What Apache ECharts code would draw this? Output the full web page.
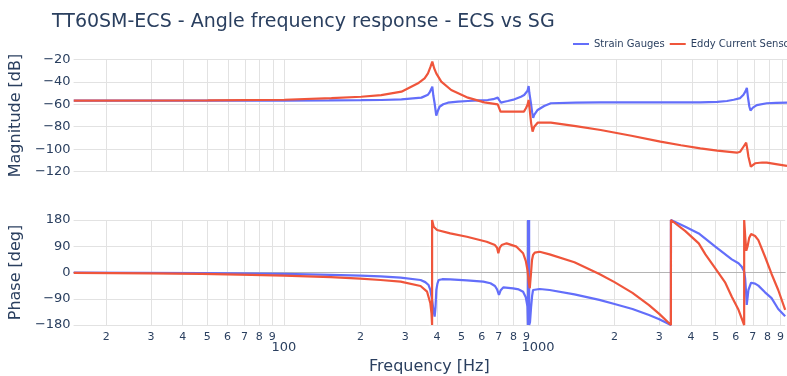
<!DOCTYPE html>
<html>
<head>
<meta charset="utf-8">
<script src="https://cdn.jsdelivr.net/npm/echarts@6/dist/echarts.min.js"></script>
<style>
  html, body { margin: 0; padding: 0; background: #fff; }
  #chart { width: 787px; height: 376px; }
</style>
</head>
<body>
<div id="chart"></div>
<script>
// Frequency response of the TT60SM-ECS angle sensor: strain gauges vs eddy current sensor.
// Each series is a list of [frequency in Hz, value].

const sgMagnitude = [
  [14.9,-56.8],[30,-56.8],[50,-56.8],[100,-56.7],[150,-56.6],[200,-56.4],[240,-56.2],[288,-55.6],
  [345,-54.1],[366,-51.5],[371,-49.7],[377,-46.5],[380.6,-44.4],[384,-52],[388.6,-59.1],[394.5,-70.2],
  [400,-66],[406.4,-62.2],[420,-60],[438.3,-58.6],[480,-57.6],[525,-57.1],[580,-56.6],[628,-56.2],
  [660,-55.5],[687.5,-54.1],[698,-56.5],[708.4,-58.6],[730,-57.8],[752.5,-57.1],[800,-55.6],[848,-53.3],
  [873,-51.8],[887,-50.2],[900,-48],[909,-43.8],[915,-50],[928,-59.1],[938,-67],[947,-72],[956,-69.5],
  [986,-65.1],[1046,-61.5],[1111,-59.1],[1391,-58.5],[1743,-58.3],[2500,-58.3],[3500,-58.3],[4290,-58.3],
  [5000,-57.8],[5456,-57.1],[5800,-56],[6151,-54.5],[6335,-51.5],[6450,-48.5],[6532,-45.5],[6600,-54],
  [6680,-62],[6750,-65.5],[6900,-63],[7147,-60.7],[7822,-59.1],[8500,-58.8],[9389,-58.6]
];

const ecsMagnitude = [
  [14.9,-56.8],[50,-56.6],[100,-56.0],[153,-54.6],[200,-53.3],[240,-51.8],[288,-48.8],[334.5,-41.4],
  [355,-37],[366,-32.5],[374,-27],[380.6,-22.1],[387,-28],[394.5,-32.5],[412.7,-39.9],[451.5,-47.3],
  [525,-54.1],[609,-58.3],[687.5,-60.1],[697,-61],[705,-66.6],[730,-66.6],[800,-66.6],[871,-66.6],
  [887,-63.6],[900,-60.5],[909,-56.2],[915,-62],[920,-67],[930,-77],[942,-84.4],[956,-80],[986,-76.4],
  [1111,-76.4],[1391,-79.5],[1743,-82.9],[2300,-88],[2991,-93.3],[3600,-96.5],[4290,-99.2],[5000,-101.3],
  [5969,-103.1],[6151,-102.2],[6335,-97.8],[6492,-94.2],[6560,-100],[6627,-106.7],[6772,-115.5],
  [7039,-112.5],[7500,-111.8],[7822,-112],[8500,-113.3],[9389,-114.9]
];

const sgPhase = [
  [14.9,0],[47.5,-2],[100,-5],[153,-8],[200,-10.5],[240,-13.5],[288,-17.7],[345,-25.7],[360,-33],
  [371,-42.9],[377,-60],[383,-94],[388,-130],[392,-151],[395,-120],[398,-60],[402,-38],[406.4,-25.7],
  [420,-23],[451.5,-23.4],[525,-27],[609,-31.4],[650,-37],[677,-46.3],[690,-58],[702,-77],[712,-62],
  [730,-50.9],[798,-54.3],[840,-58],[873.6,-65.8],[895,-85],[909,-117],[913,-180],[913.5,180],[918,60],
  [922.5,180],[923,-180],[930,-170],[939,-120],[948,-80],[956,-60],[1015,-56.6],[1111,-60],[1391,-75],
  [1743,-94],[2000,-108],[2353,-125],[2734,-146],[3000,-160],[3334,-180],[3335,180],[3800,157],
  [4290,134],[4985,88.6],[5788,45],[6151,31.5],[6335,20],[6474,3],[6532,-20],[6590,-70],[6627,-111],
  [6680,-85],[6729,-60],[6894,-35],[6931,-32],[7147,-38],[7362,-45],[7822,-68],[8299,-88],[8816,-125],
  [9389,-150]
];

const ecsPhase = [
  [14.9,-1],[30,-3],[47.5,-5],[74.5,-8],[100,-11],[153,-16],[200,-21],[240,-25.7],[288,-31.4],
  [345,-46.3],[366,-65.8],[377,-105.6],[381,-140],[383,-180],[383.1,180],[388.6,157],[400.6,145.7],
  [451.5,134],[525,122.7],[628,105.6],[677,94],[690,85],[698,66],[707,85],[719.4,94],[752.5,100],
  [823,88.6],[873.6,66],[895,40],[909,8.6],[920,-35],[928,-54],[937,-10],[947,43],[956,60],[971,68],
  [1015,71],[1111,62],[1391,35],[1743,-5],[2000,-33],[2353,-70],[2734,-112],[3000,-142],[3334,-180],
  [3335,180],[3800,142],[4290,100],[4557,62],[4985,14],[5456,-35],[5788,-83],[6151,-128],[6474,-180],
  [6475,180],[6540,120],[6600,75],[6627,71],[6680,90],[6772,118],[6894,132],[6975,133],[7147,125],
  [7362,111],[7822,54],[8299,-5],[8816,-60],[9389,-128]
];

const seriesNames = ['Strain Gauges', 'Eddy Current Sensor'];
const seriesColors = ['#636efa', '#ef553b'];

// Log-frequency axis: ticks at 2..9 of every decade, decades labelled in full
const xTickValues = [20,30,40,50,60,70,80,90,100,200,300,400,500,600,700,800,900,1000,2000,3000,4000,5000,6000,7000,8000,9000];
const xTickLabels = ['2','3','4','5','6','7','8','9','100','2','3','4','5','6','7','8','9','1000','2','3','4','5','6','7','8','9'];
const xRangeHz = [14.88, 9389];

const magTicks = { min: -120, max: -20, interval: 20 };
const phaseTicks = { min: -180, max: 180, interval: 90 };

const FONT = 'DejaVu Sans';
const TEXT = '#2a3f5f';
const GRID_COLOR = '#e2e2e2';

const lg = Math.log10;
const toLog = pts => pts.map(([f, v]) => [lg(f), v]);
const tickLogs = xTickValues.map(lg);

function xLabel(value) {
  const i = tickLogs.findIndex(t => Math.abs(t - value) < 1e-6);
  if (i < 0) return '';
  const txt = xTickLabels[i];
  return txt.length > 1 ? '{major|' + txt + '}' : '{minor|' + txt + '}';
}
const yLabel = v => (v < 0 ? '\u2212' + Math.abs(v) : String(v));

function xAxisFor(gridIndex, showLabels) {
  return {
    type: 'value', gridIndex,
    min: lg(xRangeHz[0]), max: lg(xRangeHz[1]),
    axisLine: { show: false, onZero: false },
    axisTick: { show: false, customValues: tickLogs },
    splitLine: { show: true, lineStyle: { color: GRID_COLOR, width: 1 } },
    axisLabel: {
      show: showLabels, customValues: tickLogs, formatter: xLabel, margin: 7,
      color: TEXT, fontFamily: FONT, fontSize: 11,
      rich: {
        minor: { fontSize: 11, color: TEXT, fontFamily: FONT },
        major: { fontSize: 13, color: TEXT, fontFamily: FONT, padding: [9, 0, 0, 0] }
      }
    },
    name: showLabels ? 'Frequency [Hz]' : '',
    nameLocation: 'middle', nameGap: 34,
    nameTextStyle: { color: TEXT, fontFamily: FONT, fontSize: 16 }
  };
}

function yAxisFor(gridIndex, ticks, name) {
  return {
    type: 'value', gridIndex,
    min: ticks.min, max: ticks.max, interval: ticks.interval,
    axisLine: { show: false, onZero: false },
    axisTick: { show: false },
    splitLine: { show: true, lineStyle: { color: GRID_COLOR, width: 1 } },
    axisLabel: { color: TEXT, fontFamily: FONT, fontSize: 13, margin: 3, formatter: yLabel },
    name, nameLocation: 'middle', nameGap: 43, nameRotate: 90,
    nameTextStyle: { color: TEXT, fontFamily: FONT, fontSize: 16 }
  };
}

function lineSeries(name, color, xi, yi, pts) {
  return {
    type: 'line', name, xAxisIndex: xi, yAxisIndex: yi,
    data: toLog(pts), showSymbol: false, symbol: 'none',
    lineStyle: { color, width: 2.2 }, itemStyle: { color },
    animation: false
  };
}

const chart = echarts.init(document.getElementById('chart'), null, { renderer: 'canvas' });
chart.setOption({
  backgroundColor: '#ffffff',
  animation: false,
  title: {
    text: 'TT60SM-ECS - Angle frequency response - ECS vs SG',
    left: 47, top: 8,
    textStyle: { color: TEXT, fontFamily: FONT, fontSize: 19, fontWeight: 'normal' }
  },
  legend: {
    data: seriesNames, orient: 'horizontal', left: 573, top: 39, width: 400, padding: 0,
    icon: 'rect', itemWidth: 16, itemHeight: 2, itemGap: 5,
    textStyle: { color: TEXT, fontFamily: FONT, fontSize: 10 }
  },
  grid: [
    { left: 71, right: 0, top: 59.3, height: 112.4 },
    { left: 71, right: 0, top: 220, height: 105 }
  ],
  xAxis: [
    xAxisFor(0, false),
    xAxisFor(1, true),
    // zero line of the phase plot
    {
      type: 'value', gridIndex: 1, min: lg(xRangeHz[0]), max: lg(xRangeHz[1]),
      axisLine: { show: true, onZero: true, lineStyle: { color: '#b4b4b4', width: 1 } },
      axisTick: { show: false }, axisLabel: { show: false }, splitLine: { show: false }
    }
  ],
  yAxis: [
    yAxisFor(0, magTicks, 'Magnitude [dB]'),
    yAxisFor(1, phaseTicks, 'Phase [deg]')
  ],
  series: [
    lineSeries(seriesNames[0], seriesColors[0], 0, 0, sgMagnitude),
    lineSeries(seriesNames[1], seriesColors[1], 0, 0, ecsMagnitude),
    lineSeries(seriesNames[0], seriesColors[0], 1, 1, sgPhase),
    lineSeries(seriesNames[1], seriesColors[1], 1, 1, ecsPhase)
  ]
});
</script>
</body>
</html>
